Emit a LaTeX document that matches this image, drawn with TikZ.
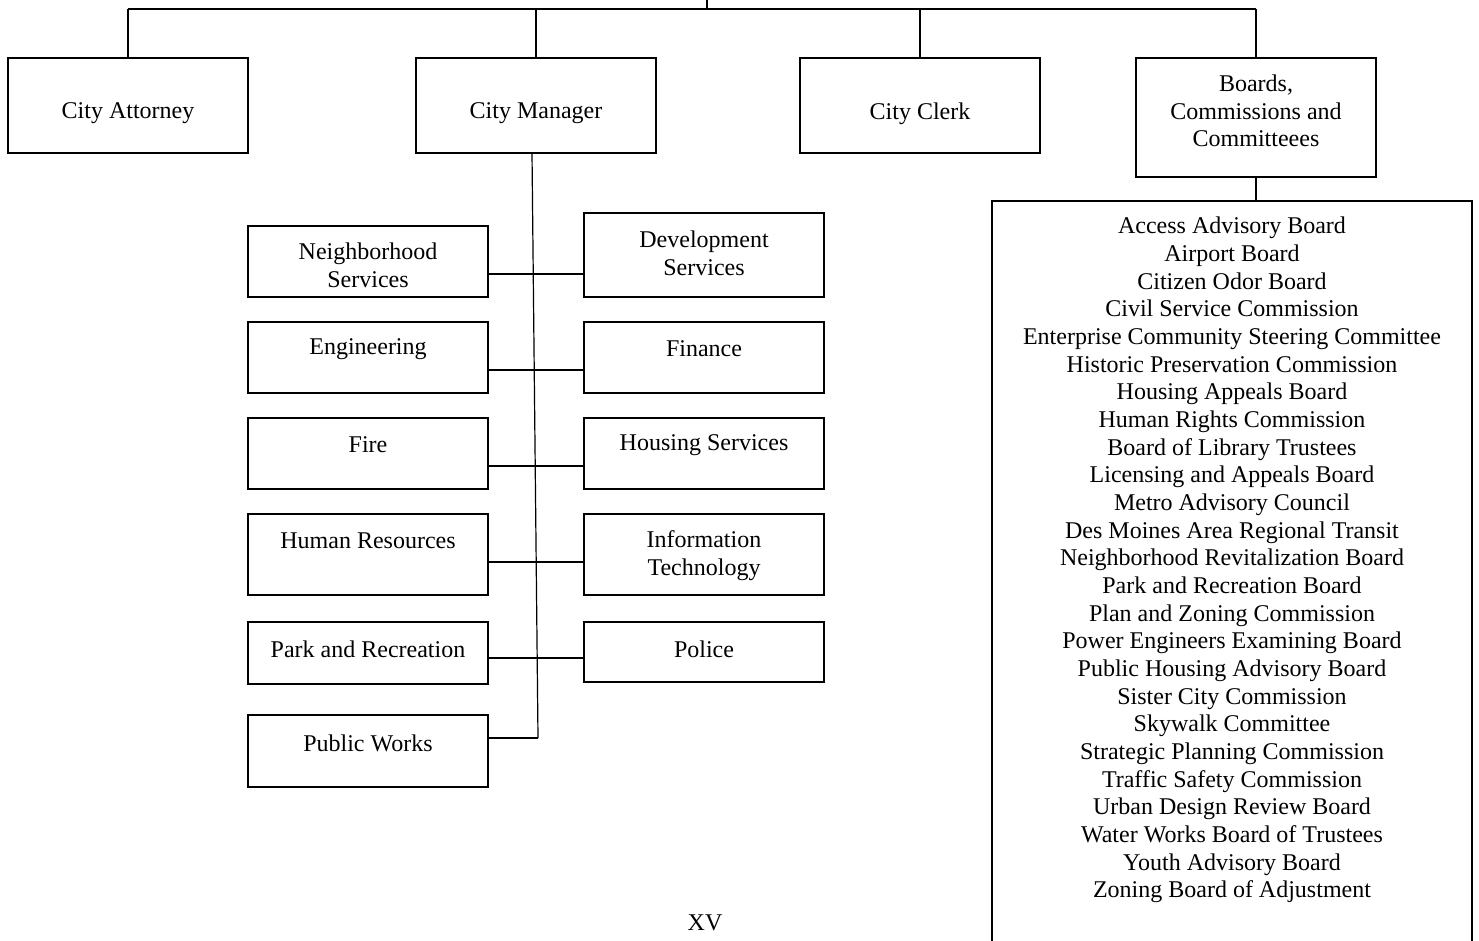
\documentclass[tikz,border=0pt]{standalone}
\usepackage{fontspec}
\setmainfont{Liberation Serif}
\begin{document}
\begin{tikzpicture}[x=1pt,y=-1pt,
  box/.style={draw, line width=1.7pt, inner sep=0pt, outer sep=0pt},
  lbl/.style={font=\fontsize{24}{27.6}\selectfont, align=center, inner sep=0pt},
  conn/.style={line width=1.5pt},
  tline/.style={line width=1.2pt},
  bar/.style={line width=2.2pt}]
\clip (0,0) rectangle (1479,940);
% top level boxes
\node[box, minimum width=240, minimum height=95] (attorney) at (128,105.5) {};
\node[box, minimum width=240, minimum height=95] (manager) at (536,105.5) {};
\node[box, minimum width=240, minimum height=95] (clerk) at (920,105.5) {};
\node[box, minimum width=240, minimum height=119] (boards) at (1256,117.5) {};
\node[lbl] (tattorney) at (128,113.5) {City Attorney};
\node[lbl] (tmanager) at (536,113.5) {City Manager};
\node[lbl] (tclerk) at (920,113.5) {City Clerk};
\node[lbl] (tboards) at (1256,111) {Boards,\\Commissions and\\Committeees};
% top connectors
\coordinate (top) at (707,0);
\coordinate (bartop) at (707,9);
\draw[tline] (top) -- (bartop);
\draw[bar] (attorney.north |- bartop) -- (boards.north |- bartop);
\foreach \n in {attorney,manager,clerk,boards}
  \draw[tline] (\n.north |- bartop) -- (\n.north);
% departments left
\node[box, minimum width=240, minimum height=71] (nbhd) at (368,261.5) {};
\node[box, minimum width=240, minimum height=71] (eng) at (368,357.5) {};
\node[box, minimum width=240, minimum height=71] (fire) at (368,453.5) {};
\node[box, minimum width=240, minimum height=81] (hr) at (368,554.5) {};
\node[box, minimum width=240, minimum height=62] (park) at (368,653) {};
\node[box, minimum width=240, minimum height=72] (pw) at (368,751) {};
% departments right
\node[box, minimum width=240, minimum height=84] (dev) at (704,255) {};
\node[box, minimum width=240, minimum height=71] (fin) at (704,357.5) {};
\node[box, minimum width=240, minimum height=71] (hous) at (704,453.5) {};
\node[box, minimum width=240, minimum height=81] (it) at (704,554.5) {};
\node[box, minimum width=240, minimum height=60] (police) at (704,652) {};
% labels
\node[lbl] (tnbhd) at (368,265) {Neighborhood\\Services};
\node[lbl] (tdev) at (704,253.5) {Development\\Services};
\node[lbl] (teng) at (368,349.5) {Engineering};
\node[lbl] (tfin) at (704,349) {Finance};
\node[lbl] (tfire) at (368,445) {Fire};
\node[lbl] (thous) at (704,445.5) {Housing Services};
\node[lbl] (thr) at (368,541) {Human Resources};
\node[lbl] (tit) at (704,555.5) {Information\\Technology};
\node[lbl] (tpark) at (368,649) {Park and Recreation};
\node[lbl] (tpolice) at (704,649) {Police};
\node[lbl] (tpw) at (368,743) {Public Works};
% spine
\coordinate (spinetop) at (532,153);
\coordinate (spinebot) at (538,738);
\draw[tline] (spinetop) -- (spinebot);
\coordinate (r1) at (536,274);
\coordinate (r2) at (536,370);
\coordinate (r3) at (536,466);
\coordinate (r4) at (536,562);
\coordinate (r5) at (536,658);
\draw[conn] (nbhd.east |- r1) -- (dev.west |- r1);
\draw[conn] (eng.east |- r2) -- (fin.west |- r2);
\draw[conn] (fire.east |- r3) -- (hous.west |- r3);
\draw[conn] (hr.east |- r4) -- (it.west |- r4);
\draw[conn] (park.east |- r5) -- (police.west |- r5);
\draw[conn] (pw.east |- spinebot) -- (spinebot);
% boards list
\node[box, minimum width=480, minimum height=800, anchor=north] (listbox) at (1232,201) {};
\draw[tline] (boards.south) -- (boards.south |- listbox.north);
\node[lbl, font=\fontsize{24}{27.66}\selectfont] (tlist) at (1232,560) {Access Advisory Board\\
Airport Board\\
Citizen Odor Board\\
Civil Service Commission\\
Enterprise Community Steering Committee\\
Historic Preservation Commission\\
Housing Appeals Board\\
Human Rights Commission\\
Board of Library Trustees\\
Licensing and Appeals Board\\
Metro Advisory Council\\
Des Moines Area Regional Transit\\
Neighborhood Revitalization Board\\
Park and Recreation Board\\
Plan and Zoning Commission\\
Power Engineers Examining Board\\
Public Housing Advisory Board\\
Sister City Commission\\
Skywalk Committee\\
Strategic Planning Commission\\
Traffic Safety Commission\\
Urban Design Review Board\\
Water Works Board of Trustees\\
Youth Advisory Board\\
Zoning Board of Adjustment};
\node[lbl] (pagenum) at (705,923) {XV};
\end{tikzpicture}
\end{document}
